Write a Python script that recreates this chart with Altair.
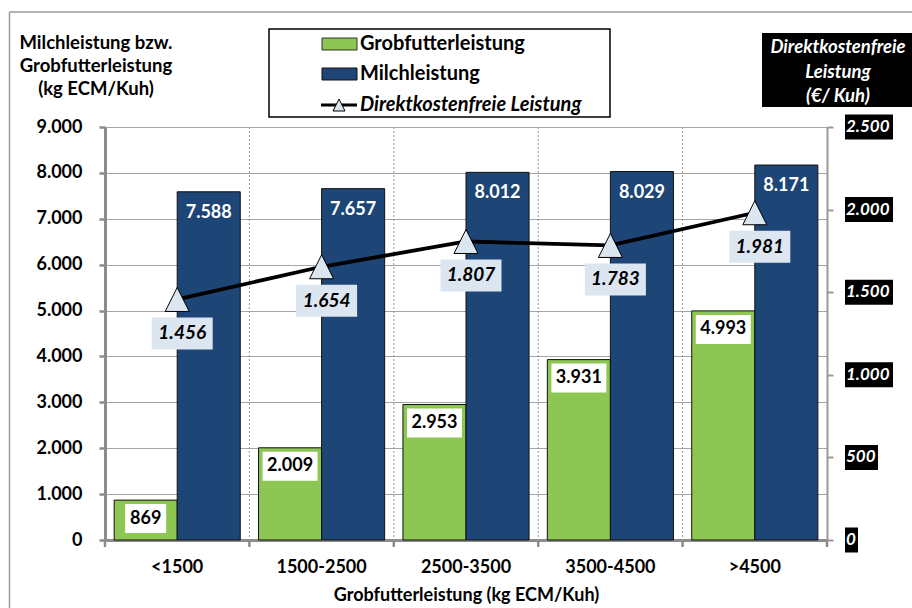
import altair as alt
import pandas as pd

# Werte je Grobfutterleistungsklasse (kg ECM/Kuh)
klassen = ["<1500", "1500-2500", "2500-3500", "3500-4500", ">4500"]
grobfutter = [869, 2009, 2953, 3931, 4993]          # kg ECM/Kuh
milch = [7588, 7657, 8012, 8029, 8171]              # kg ECM/Kuh
dkfl = [1456, 1654, 1807, 1783, 1981]               # Direktkostenfreie Leistung, €/Kuh
serien = ["Grobfutterleistung", "Milchleistung"]
links_ticks = [0, 1000, 2000, 3000, 4000, 5000, 6000, 7000, 8000, 9000]
rechts_ticks = [0, 500, 1000, 1500, 2000, 2500]

GRUEN = "#8DC653"
BLAU = "#1D4576"
HELL = "#DCE6F1"
GRAU = "#8C8C8C"
FONT = "Lato"

W, H = 722, 413

bars_df = pd.DataFrame({
    "klasse": klassen * 2,
    "serie": [serien[0]] * 5 + [serien[1]] * 5,
    "wert": grobfutter + milch,
})
line_df = pd.DataFrame({"klasse": klassen, "wert": dkfl})
rticks_df = pd.DataFrame({"wert": rechts_ticks})
one = pd.DataFrame({"a": [0]})

DE = "replace(format(datum.{f}, ','), ',', '.')"

# shared encodings: every layer uses the same definition so the axes merge cleanly
x_scale = alt.Scale(domain=klassen, paddingInner=0, paddingOuter=0)
xo_scale = alt.Scale(domain=serien, paddingInner=0, paddingOuter=0.145)
x_axis = alt.Axis(
    title="Grobfutterleistung (kg ECM/Kuh)", labelFontSize=18, labelFontWeight="bold",
    labelColor="black", labelAngle=0, labelPadding=18, ticks=False,
    domainColor=GRAU, domainWidth=3, grid=False, titleFontSize=18,
    titleFontWeight="bold", titleColor="black", titlePadding=10,
)
X = alt.X("klasse:N", sort=klassen, scale=x_scale, axis=x_axis)
X0 = alt.X("klasse:N", sort=klassen, scale=x_scale, axis=x_axis, bandPosition=0)
XO = alt.XOffset("serie:N", sort=serien, scale=xo_scale)

yl_scale = alt.Scale(domain=[0, 9000], nice=False)
yl_axis = alt.Axis(
    values=links_ticks, labelExpr=DE.format(f="value"), title=None,
    labelFontSize=18, labelFontWeight="bold", labelColor="black", labelPadding=17,
    domainColor=GRAU, domainWidth=3, tickColor=GRAU, tickWidth=2.5, tickSize=6,
    gridColor="#A6A6A6", gridWidth=1.2,
)
YL = alt.Y("wert:Q", scale=yl_scale, axis=yl_axis)

yr_scale = alt.Scale(domain=[0, 2500], nice=False)
yr_axis = alt.Axis(
    orient="right", values=rechts_ticks, labels=False, title=None, grid=False,
    domainColor="#9A9A9A", domainWidth=2, tickColor="#9A9A9A", tickWidth=2, tickSize=6,
)
YR = alt.Y("wert:Q", scale=yr_scale, axis=yr_axis)


def box_path(w_expr, y0, y1):
    # rectangle path (unit = 10 px at size 400), centred horizontally
    return ("'M' + (-({w})/20) + ',{a}H' + (({w})/20) + 'V{b}H' + (-({w})/20) + 'Z'"
            .format(w=w_expr, a=y0, b=y1))


# ---------- left-scale group: bars, their labels ----------
vgrid = alt.Chart(line_df).transform_filter(alt.datum.klasse != klassen[0]).mark_rule(
    color="#9A9A9A", strokeWidth=1, strokeDash=[2, 2]
).encode(x=X0, y=alt.value(0), y2=alt.value(H))

xticks = alt.Chart(line_df).mark_rule(color=GRAU, strokeWidth=2.5).encode(
    x=X0, y=alt.value(H), y2=alt.value(H + 7))

bars = alt.Chart(bars_df).mark_bar(stroke="#111111", strokeWidth=1, opacity=1).encode(
    x=X, xOffset=XO, y=YL,
    color=alt.Color("serie:N", scale=alt.Scale(domain=serien, range=[GRUEN, BLAU]), legend=None),
)

gruen_lab = (
    alt.Chart(bars_df)
    .transform_filter(alt.datum.serie == serien[0])
    .transform_calculate(lab=DE.format(f="wert"))
    .transform_calculate(nd="length(replace(datum.lab, '.', ''))")
    .transform_calculate(bw="10*datum.nd + 4*(length(datum.lab) - datum.nd) + 11")
    .transform_calculate(box=box_path("datum.bw", 0.4, 3.3))
)
gruen_box = gruen_lab.mark_point(filled=True, fill="white", opacity=1, strokeWidth=0).encode(
    x=X, xOffset=XO, y=YL, shape=alt.Shape("box:N", scale=None), size=alt.value(400))
gruen_txt = gruen_lab.mark_text(
    font=FONT, fontSize=18, fontWeight="bold", color="black", baseline="middle", dy=18.5
).encode(x=X, xOffset=XO, y=YL, text="lab:N")

blau_txt = (
    alt.Chart(bars_df)
    .transform_filter(alt.datum.serie == serien[1])
    .transform_calculate(lab=DE.format(f="wert"))
    .mark_text(font=FONT, fontSize=18, fontWeight="bold", color="white", baseline="middle", dy=21)
    .encode(x=X, xOffset=XO, y=YL, text="lab:N")
)

gruppe_links = alt.layer(vgrid, bars, gruen_box, gruen_txt, blau_txt, xticks)

# ---------- right-scale group: Direktkostenfreie Leistung ----------
linie = alt.Chart(line_df).mark_line(color="black", strokeWidth=3.8).encode(x=X, y=YR)
dreiecke = alt.Chart(line_df).mark_point(
    shape="M0,-1L-1,1L1,1Z", size=576, filled=True, fill=HELL, stroke="black", strokeWidth=1, opacity=1
).encode(x=X, y=YR)
dk_lab = alt.Chart(line_df).transform_calculate(lab=DE.format(f="wert"))
dk_box = dk_lab.mark_point(
    shape="M-2.55,1.8H3.55V5H-2.55Z", size=400, filled=True, fill=HELL, opacity=1, strokeWidth=0
).encode(x=X, y=YR)
dk_txt = dk_lab.mark_text(
    font=FONT, fontSize=19, fontWeight="bold", fontStyle="italic", color="black",
    baseline="middle", dx=5, dy=34).encode(x=X, y=YR, text="lab:N")

r_lab = (
    alt.Chart(rticks_df)
    .transform_calculate(lab=DE.format(f="wert"))
    .transform_calculate(nd="length(replace(datum.lab, '.', ''))")
    .transform_calculate(bw="10*datum.nd + 5*(length(datum.lab) - datum.nd) + 3")
    .transform_calculate(box="'M0,-1.25H' + (datum.bw/10) + 'V1.25H0Z'")
)
r_box = r_lab.mark_point(filled=True, fill="black", opacity=1, strokeWidth=0).encode(
    x=alt.value(740), y=YR, shape=alt.Shape("box:N", scale=None), size=alt.value(400))
r_txt = r_lab.mark_text(
    font=FONT, fontSize=17, fontWeight="bold", fontStyle="italic", color="white",
    align="left", baseline="middle").encode(x=alt.value(741), y=YR, text="lab:N")

gruppe_rechts = alt.layer(linie, dreiecke, dk_box, dk_txt, r_box, r_txt)

# ---------- frame, titles and legend (pixel placed, no scales) ----------
rahmen_v = alt.Chart(one).mark_rule(color="#9A9A9A", strokeWidth=1.5).encode(
    x=alt.value(-95.5), y=alt.value(-115), y2=alt.value(H + 68))
rahmen_h = alt.Chart(one).mark_rule(color="#9A9A9A", strokeWidth=1.5).encode(
    x=alt.value(-95.5), x2=alt.value(W + 85), y=alt.value(-115))
xtick_end = alt.Chart(one).mark_rule(color=GRAU, strokeWidth=2.5).encode(
    x=alt.value(W), y=alt.value(H), y2=alt.value(H + 7))

links_titel = alt.Chart(one).mark_text(
    font=FONT, fontSize=18.5, fontWeight="bold", color="black", baseline="middle",
    lineBreak="\n", lineHeight=23,
    text="Milchleistung bzw.\nGrobfutterleistung\n(kg ECM/Kuh)",
).encode(x=alt.value(-9), y=alt.value(-84))

rechts_kasten = alt.Chart(one).mark_rect(fill="black").encode(
    x=alt.value(657), x2=alt.value(W + 85), y=alt.value(-94), y2=alt.value(-20))
rechts_titel = alt.Chart(one).mark_text(
    font=FONT, fontSize=18.5, fontWeight="bold", fontStyle="italic", color="white",
    baseline="middle", lineBreak="\n", lineHeight=24.5,
    text="Direktkostenfreie\nLeistung\n(€/ Kuh)",
).encode(x=alt.value(733), y=alt.value(-80))

leg_rahmen = alt.Chart(one).mark_rect(fill="white", stroke="black", strokeWidth=1.5).encode(
    x=alt.value(164), x2=alt.value(505), y=alt.value(-98), y2=alt.value(-10))
leg_gruen = alt.Chart(one).mark_rect(fill=GRUEN, stroke="#333333", strokeWidth=1).encode(
    x=alt.value(217), x2=alt.value(252), y=alt.value(-89), y2=alt.value(-77))
leg_blau = alt.Chart(one).mark_rect(fill=BLAU, stroke="#111111", strokeWidth=1).encode(
    x=alt.value(217), x2=alt.value(252), y=alt.value(-59), y2=alt.value(-47))
leg_linie = alt.Chart(one).mark_rule(color="black", strokeWidth=3).encode(
    x=alt.value(216), x2=alt.value(252), y=alt.value(-22))
leg_dreieck = alt.Chart(one).mark_point(
    shape="M0,-1L-1,1L1,1Z", size=144, filled=True, fill=HELL, stroke="black", strokeWidth=1, opacity=1
).encode(x=alt.value(234), y=alt.value(-22))
leg_txt = alt.Chart(one).mark_text(
    font=FONT, fontSize=20, fontWeight="bold", color="black", align="left", baseline="middle",
    lineBreak="\n", lineHeight=30, text="Grobfutterleistung\nMilchleistung",
).encode(x=alt.value(255), y=alt.value(-83))
leg_txt2 = alt.Chart(one).mark_text(
    font=FONT, fontSize=20, fontWeight="bold", fontStyle="italic", color="black", align="left",
    baseline="middle", text="Direktkostenfreie Leistung").encode(x=alt.value(255), y=alt.value(-22))

deko = alt.layer(
    rahmen_v, rahmen_h, xtick_end, links_titel, rechts_kasten, rechts_titel,
    leg_rahmen, leg_gruen, leg_blau, leg_linie, leg_dreieck, leg_txt, leg_txt2,
)

chart = (
    alt.layer(gruppe_links, gruppe_rechts, deko)
    .resolve_scale(y="independent")
    .properties(
        width=W, height=H,
        autosize=alt.AutoSizeParams(type="none"),
        padding={"left": 105, "top": 127, "right": 85, "bottom": 68},
        background="white",
    )
    .configure_view(stroke=None)
    .configure(font=FONT)
)

chart.save("out.html", embed_options={"renderer": "svg", "actions": False})
